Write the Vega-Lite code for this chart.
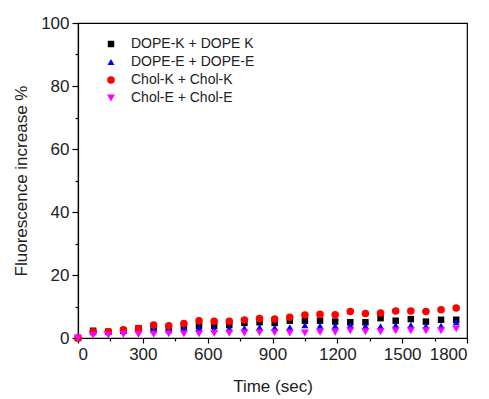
{
  "$schema": "https://vega.github.io/schema/vega-lite/v6.json",
  "width": 389,
  "height": 315,
  "autosize": {"type": "none"},
  "padding": {"left": 78, "top": 23, "right": 22, "bottom": 61},
  "background": "white",
  "config": {
    "view": {"stroke": "black", "strokeWidth": 1.2},
    "font": "Liberation Sans",
    "axis": {
      "domainColor": "black", "domainWidth": 1.2, "tickColor": "black", "tickWidth": 1.2,
      "labelColor": "#222", "titleColor": "#222", "labelFont": "Liberation Sans", "titleFont": "Liberation Sans",
      "labelFontSize": 17, "titleFontSize": 17, "titleFontWeight": "normal", "grid": false
    }
  },
  "data": {"values": [
    {"t":0,"s":"DOPE-K + DOPE K","v":0},{"t":70,"s":"DOPE-K + DOPE K","v":2.3},{"t":140,"s":"DOPE-K + DOPE K","v":2.0},{"t":210,"s":"DOPE-K + DOPE K","v":2.3},{"t":280,"s":"DOPE-K + DOPE K","v":3.1},{"t":350,"s":"DOPE-K + DOPE K","v":3.0},{"t":420,"s":"DOPE-K + DOPE K","v":3.0},{"t":490,"s":"DOPE-K + DOPE K","v":3.6},{"t":560,"s":"DOPE-K + DOPE K","v":3.9},{"t":630,"s":"DOPE-K + DOPE K","v":3.9},{"t":700,"s":"DOPE-K + DOPE K","v":4.1},{"t":770,"s":"DOPE-K + DOPE K","v":4.8},{"t":840,"s":"DOPE-K + DOPE K","v":5.0},{"t":910,"s":"DOPE-K + DOPE K","v":4.8},{"t":980,"s":"DOPE-K + DOPE K","v":5.5},{"t":1050,"s":"DOPE-K + DOPE K","v":5.5},{"t":1120,"s":"DOPE-K + DOPE K","v":5.5},{"t":1190,"s":"DOPE-K + DOPE K","v":5.2},{"t":1260,"s":"DOPE-K + DOPE K","v":5.0},{"t":1330,"s":"DOPE-K + DOPE K","v":5.0},{"t":1400,"s":"DOPE-K + DOPE K","v":6.3},{"t":1470,"s":"DOPE-K + DOPE K","v":5.5},{"t":1540,"s":"DOPE-K + DOPE K","v":6.0},{"t":1610,"s":"DOPE-K + DOPE K","v":5.2},{"t":1680,"s":"DOPE-K + DOPE K","v":5.8},{"t":1750,"s":"DOPE-K + DOPE K","v":5.8},
    {"t":0,"s":"DOPE-E + DOPE-E","v":0},{"t":70,"s":"DOPE-E + DOPE-E","v":1.8},{"t":140,"s":"DOPE-E + DOPE-E","v":1.9},{"t":210,"s":"DOPE-E + DOPE-E","v":2.2},{"t":280,"s":"DOPE-E + DOPE-E","v":2.8},{"t":350,"s":"DOPE-E + DOPE-E","v":2.5},{"t":420,"s":"DOPE-E + DOPE-E","v":2.5},{"t":490,"s":"DOPE-E + DOPE-E","v":2.9},{"t":560,"s":"DOPE-E + DOPE-E","v":3.2},{"t":630,"s":"DOPE-E + DOPE-E","v":2.9},{"t":700,"s":"DOPE-E + DOPE-E","v":3.0},{"t":770,"s":"DOPE-E + DOPE-E","v":3.2},{"t":840,"s":"DOPE-E + DOPE-E","v":3.4},{"t":910,"s":"DOPE-E + DOPE-E","v":3.3},{"t":980,"s":"DOPE-E + DOPE-E","v":3.4},{"t":1050,"s":"DOPE-E + DOPE-E","v":4.1},{"t":1120,"s":"DOPE-E + DOPE-E","v":3.9},{"t":1190,"s":"DOPE-E + DOPE-E","v":3.9},{"t":1260,"s":"DOPE-E + DOPE-E","v":4.1},{"t":1330,"s":"DOPE-E + DOPE-E","v":3.8},{"t":1400,"s":"DOPE-E + DOPE-E","v":3.7},{"t":1470,"s":"DOPE-E + DOPE-E","v":4.1},{"t":1540,"s":"DOPE-E + DOPE-E","v":4.1},{"t":1610,"s":"DOPE-E + DOPE-E","v":3.8},{"t":1680,"s":"DOPE-E + DOPE-E","v":3.9},{"t":1750,"s":"DOPE-E + DOPE-E","v":5.0},
    {"t":0,"s":"Chol-K + Chol-K","v":0},{"t":70,"s":"Chol-K + Chol-K","v":2.0},{"t":140,"s":"Chol-K + Chol-K","v":2.0},{"t":210,"s":"Chol-K + Chol-K","v":2.6},{"t":280,"s":"Chol-K + Chol-K","v":3.0},{"t":350,"s":"Chol-K + Chol-K","v":4.1},{"t":420,"s":"Chol-K + Chol-K","v":3.9},{"t":490,"s":"Chol-K + Chol-K","v":4.6},{"t":560,"s":"Chol-K + Chol-K","v":5.5},{"t":630,"s":"Chol-K + Chol-K","v":5.3},{"t":700,"s":"Chol-K + Chol-K","v":5.3},{"t":770,"s":"Chol-K + Chol-K","v":5.7},{"t":840,"s":"Chol-K + Chol-K","v":6.2},{"t":910,"s":"Chol-K + Chol-K","v":6.0},{"t":980,"s":"Chol-K + Chol-K","v":6.6},{"t":1050,"s":"Chol-K + Chol-K","v":7.3},{"t":1120,"s":"Chol-K + Chol-K","v":7.5},{"t":1190,"s":"Chol-K + Chol-K","v":7.4},{"t":1260,"s":"Chol-K + Chol-K","v":8.4},{"t":1330,"s":"Chol-K + Chol-K","v":7.8},{"t":1400,"s":"Chol-K + Chol-K","v":7.9},{"t":1470,"s":"Chol-K + Chol-K","v":8.6},{"t":1540,"s":"Chol-K + Chol-K","v":8.6},{"t":1610,"s":"Chol-K + Chol-K","v":8.4},{"t":1680,"s":"Chol-K + Chol-K","v":9.0},{"t":1750,"s":"Chol-K + Chol-K","v":9.5},
    {"t":0,"s":"Chol-E + Chol-E","v":0},{"t":70,"s":"Chol-E + Chol-E","v":0.9},{"t":140,"s":"Chol-E + Chol-E","v":0.9},{"t":210,"s":"Chol-E + Chol-E","v":1.1},{"t":280,"s":"Chol-E + Chol-E","v":1.1},{"t":350,"s":"Chol-E + Chol-E","v":1.2},{"t":420,"s":"Chol-E + Chol-E","v":1.3},{"t":490,"s":"Chol-E + Chol-E","v":1.3},{"t":560,"s":"Chol-E + Chol-E","v":1.3},{"t":630,"s":"Chol-E + Chol-E","v":1.5},{"t":700,"s":"Chol-E + Chol-E","v":1.5},{"t":770,"s":"Chol-E + Chol-E","v":1.6},{"t":840,"s":"Chol-E + Chol-E","v":1.7},{"t":910,"s":"Chol-E + Chol-E","v":1.7},{"t":980,"s":"Chol-E + Chol-E","v":1.6},{"t":1050,"s":"Chol-E + Chol-E","v":1.6},{"t":1120,"s":"Chol-E + Chol-E","v":1.8},{"t":1190,"s":"Chol-E + Chol-E","v":1.8},{"t":1260,"s":"Chol-E + Chol-E","v":2.3},{"t":1330,"s":"Chol-E + Chol-E","v":2.0},{"t":1400,"s":"Chol-E + Chol-E","v":2.0},{"t":1470,"s":"Chol-E + Chol-E","v":2.3},{"t":1540,"s":"Chol-E + Chol-E","v":2.3},{"t":1610,"s":"Chol-E + Chol-E","v":2.3},{"t":1680,"s":"Chol-E + Chol-E","v":2.3},{"t":1750,"s":"Chol-E + Chol-E","v":2.9}
  ]},
  "mark": {"type": "point", "filled": true, "opacity": 1, "clip": false},
  "encoding": {
    "x": {
      "field": "t", "type": "quantitative", "title": "Time (sec)",
      "scale": {"domain": [0, 1800], "nice": false},
      "axis": {
        "values": [0,150,300,450,600,750,900,1050,1200,1350,1500,1650,1800],
        "format": "d",
        "labelExpr": "datum.value % 300 === 0 ? datum.label : ''",
        "tickSize": {"condition": {"test": "datum.value % 300 === 0", "value": 5}, "value": 3},
        "labelPadding": 3, "titlePadding": 16
      }
    },
    "y": {
      "field": "v", "type": "quantitative", "title": "Fluorescence increase %",
      "scale": {"domain": [0, 100], "nice": false},
      "axis": {
        "values": [0,10,20,30,40,50,60,70,80,90,100],
        "format": "d",
        "labelExpr": "datum.value % 20 === 0 ? datum.label : ''",
        "tickSize": {"condition": {"test": "datum.value % 20 === 0", "value": 6}, "value": 3},
        "labelPadding": 3, "titlePadding": 10
      }
    },
    "color": {
      "field": "s", "type": "nominal",
      "scale": {"domain": ["DOPE-K + DOPE K","DOPE-E + DOPE-E","Chol-K + Chol-K","Chol-E + Chol-E"], "range": ["#000000","#0000ff","#ff0000","#ff00ff"]},
      "legend": {
        "title": null, "orient": "none", "legendX": 26, "legendY": 14,
        "labelFontSize": 14, "labelFont": "Liberation Sans", "labelColor": "#222",
        "symbolSize": 30, "rowPadding": 4, "labelOffset": 13, "symbolStrokeWidth": 0
      }
    },
    "shape": {
      "field": "s", "type": "nominal",
      "scale": {"domain": ["DOPE-K + DOPE K","DOPE-E + DOPE-E","Chol-K + Chol-K","Chol-E + Chol-E"], "range": ["square","triangle-up","circle","triangle-down"]},
      "legend": null
    },
    "size": {
      "field": "s", "type": "nominal",
      "scale": {"domain": ["DOPE-K + DOPE K","DOPE-E + DOPE-E","Chol-K + Chol-K","Chol-E + Chol-E"], "range": [42, 64, 70, 64]},
      "legend": null
    }
  }
}
